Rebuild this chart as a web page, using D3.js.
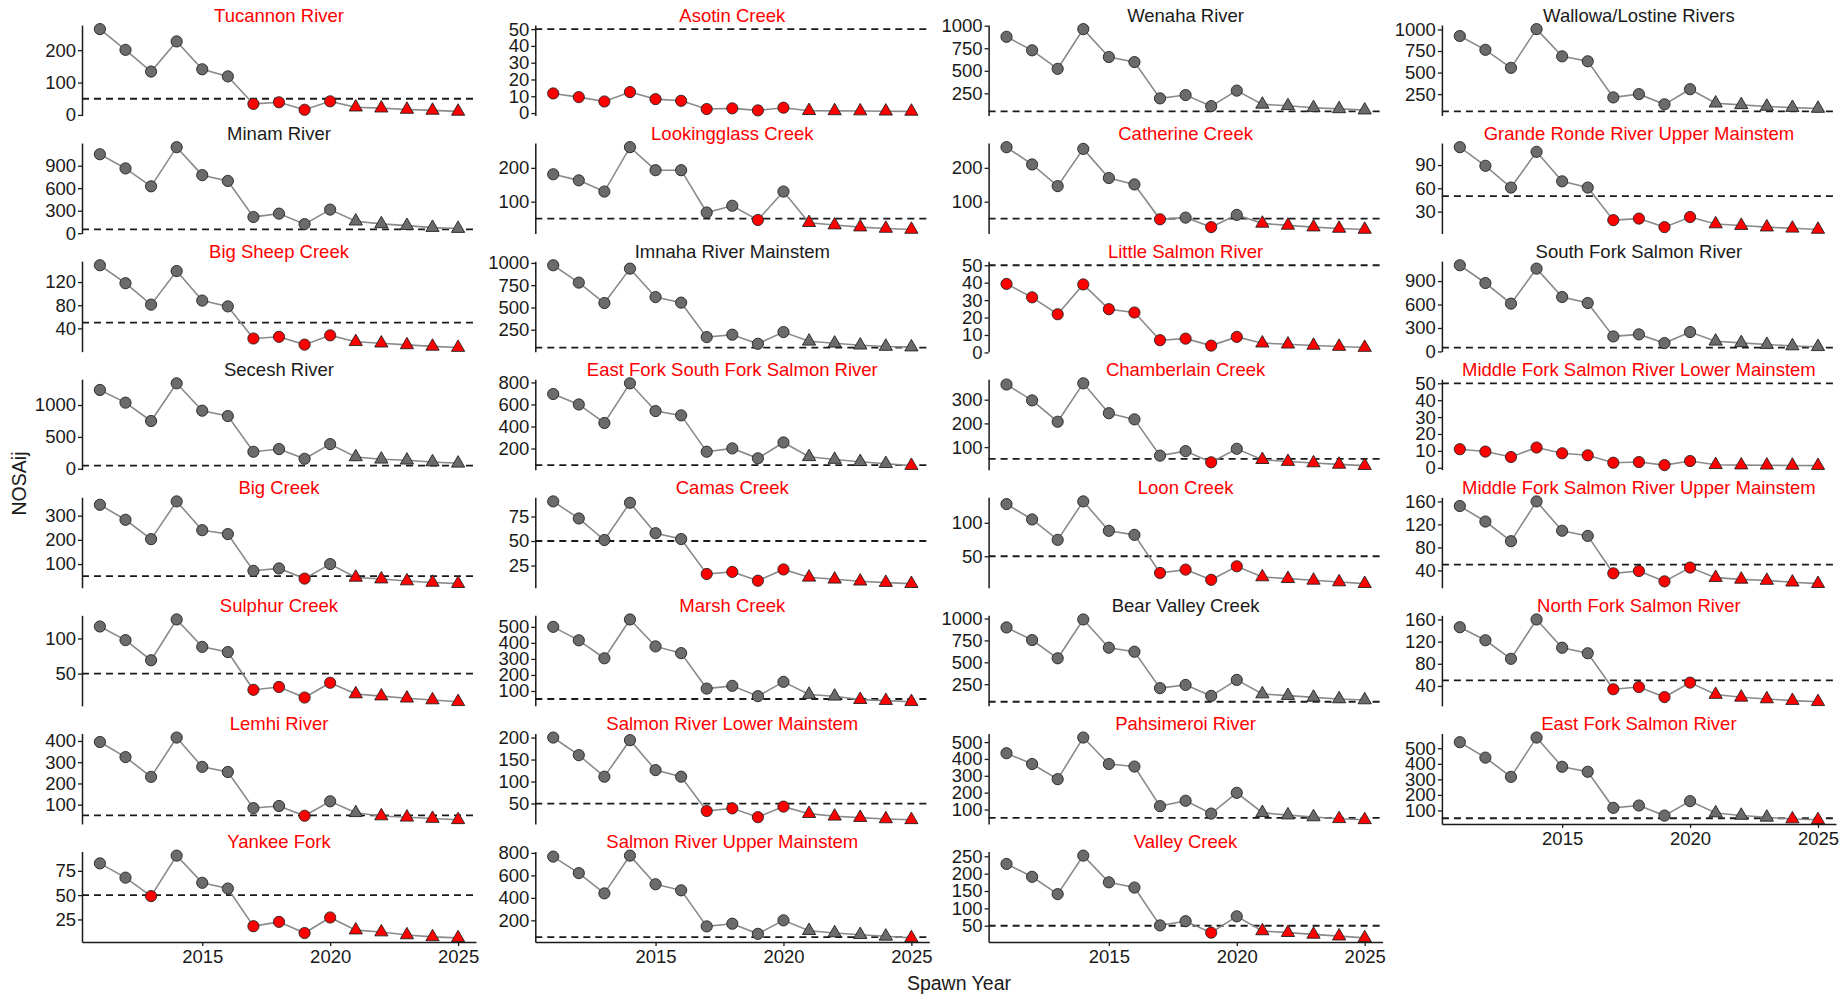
<!DOCTYPE html>
<html>
<head>
<meta charset="utf-8">
<script src="https://cdn.jsdelivr.net/npm/d3@7"></script>
<style>
  body { margin: 0; background: #ffffff; }
  text { font-family: "Liberation Sans", Arial, sans-serif; }
</style>
</head>
<body>
<div id="chart-container"></div>
<script>
// spawn years, 2021 on are projections (triangles)
const years = [2011, 2012, 2013, 2014, 2015, 2016, 2017, 2018, 2019, 2020, 2021, 2022, 2023, 2024, 2025];
const firstProjectedYear = 2021;
const threshold = 50;
const xTicks = [2015, 2020, 2025];

// NOSAij per population
const tucannon = [265, 201, 134, 227, 141, 119, 34, 39, 16, 42, 24, 21, 17, 14, 11];
const asotin = [11.7, 9.5, 6.9, 12.5, 8.3, 7.3, 2.4, 2.8, 1.6, 3.2, 1.4, 1.3, 1.2, 1.1, 1.0];
const wenaha = [877, 727, 522, 962, 653, 597, 194, 231, 108, 280, 128, 112, 90, 78, 64];
const wallowa = [924, 764, 555, 1004, 688, 631, 212, 250, 132, 307, 145, 126, 107, 94, 84];
const minam = [1053, 864, 625, 1147, 774, 697, 216, 261, 121, 315, 160, 124, 101, 75, 62];
const lookingglass = [181, 163, 130, 261, 193, 193, 68, 88, 46, 130, 38, 31, 25, 21, 18];
const catherine = [261, 210, 146, 256, 170, 151, 48, 53, 25, 61, 36, 30, 25, 21, 18];
const grandeRondeUpper = [113, 89, 61, 107, 69, 61, 19, 21, 10, 23, 14, 12, 10, 8.5, 7];
const bigSheep = [149, 118, 81, 139, 88, 78, 22.6, 25.5, 12, 28, 17, 14.5, 11.5, 9, 7];
const imnaha = [974, 779, 550, 936, 617, 554, 167, 194, 92, 224, 120, 98, 76, 62, 55];
const littleSalmon = [39.3, 31.6, 21.9, 39, 24.8, 22.9, 7, 7.9, 3.9, 8.9, 5.3, 4.7, 4.0, 3.4, 2.8];
const southFork = [1102, 875, 611, 1059, 696, 619, 192, 218, 107, 248, 130, 110, 88, 70, 60];
const secesh = [1236, 1037, 749, 1340, 911, 827, 267, 309, 157, 387, 186, 149, 134, 107, 86];
const efSouthFork = [695, 600, 432, 792, 540, 501, 171, 201, 111, 255, 125, 100, 80, 62, 45];
const chamberlain = [364, 297, 207, 369, 243, 217, 64, 83, 36, 93, 47, 39, 33, 27, 22];
const mfLower = [11, 9.6, 6.4, 12, 8.6, 7.4, 3, 3.4, 1.6, 4, 1.8, 1.6, 1.5, 1.4, 1.3];
const bigCreek = [345, 283, 203, 359, 240, 224, 72, 82, 40, 100, 45, 38, 30, 24, 19];
const camas = [90.4, 73, 51, 89, 58, 52, 16.4, 18.5, 9.5, 21, 13, 11, 9, 7.6, 6.5];
const loon = [128, 105, 74.5, 132, 88, 82, 25, 30, 14.8, 35, 19, 16.5, 14, 11.5, 9];
const mfUpper = [152, 125, 90.8, 160, 109, 100, 35, 39, 21, 45, 27.5, 24.5, 22.5, 19.5, 17];
const sulphur = [117, 97.6, 69, 127, 88, 80.6, 27, 31, 16, 37, 21, 18, 15, 12.5, 10];
const marsh = [500, 416, 304, 546, 378, 336, 115, 132, 68, 157, 78, 67, 46, 40, 33];
const bearValley = [898, 754, 546, 989, 667, 621, 205, 242, 117, 299, 138, 120, 100, 82, 70];
const northFork = [146, 122.5, 89, 160, 109, 99, 34, 38, 20, 46, 24.5, 19.5, 16.5, 13.5, 11.5];
const lemhi = [395, 324, 231, 416, 278, 254, 84, 94, 48, 116, 62, 47, 41, 35, 29];
const salmonLower = [200, 160, 111, 194, 126, 111, 33, 39, 19, 43, 27, 21, 18, 15, 13];
const pahsimeroi = [434, 370, 280, 527, 370, 355, 120, 152, 76, 199, 81, 67, 56, 45, 39];
const eastForkSalmon = [539, 440, 316, 569, 381, 349, 117, 132, 67, 160, 84, 68, 56, 45, 40];
const yankeeFork = [82.7, 68, 49, 90.7, 62.7, 56.8, 18, 22.5, 11, 27, 14, 12, 9, 7, 6];
const salmonUpper = [767, 620, 440, 776, 521, 467, 146, 170, 80, 200, 108, 88, 72, 58, 44];
const valley = [228, 191, 141, 252, 175, 160, 51, 63, 30, 77, 35, 30, 25, 20, 15];

const populations = [
    "Tucannon River", "Asotin Creek", "Wenaha River", "Wallowa/Lostine Rivers",
    "Minam River", "Lookingglass Creek", "Catherine Creek", "Grande Ronde River Upper Mainstem",
    "Big Sheep Creek", "Imnaha River Mainstem", "Little Salmon River", "South Fork Salmon River",
    "Secesh River", "East Fork South Fork Salmon River", "Chamberlain Creek", "Middle Fork Salmon River Lower Mainstem",
    "Big Creek", "Camas Creek", "Loon Creek", "Middle Fork Salmon River Upper Mainstem",
    "Sulphur Creek", "Marsh Creek", "Bear Valley Creek", "North Fork Salmon River",
    "Lemhi River", "Salmon River Lower Mainstem", "Pahsimeroi River", "East Fork Salmon River",
    "Yankee Fork", "Salmon River Upper Mainstem", "Valley Creek"
];

const series = [
    tucannon, asotin, wenaha, wallowa,
    minam, lookingglass, catherine, grandeRondeUpper,
    bigSheep, imnaha, littleSalmon, southFork,
    secesh, efSouthFork, chamberlain, mfLower,
    bigCreek, camas, loon, mfUpper,
    sulphur, marsh, bearValley, northFork,
    lemhi, salmonLower, pahsimeroi, eastForkSalmon,
    yankeeFork, salmonUpper, valley
];

// y tick labels shown on each panel (free scales)
const yTicks = [
    [0, 100, 200], [0, 10, 20, 30, 40, 50], [250, 500, 750, 1000], [250, 500, 750, 1000],
    [0, 300, 600, 900], [100, 200], [100, 200], [30, 60, 90],
    [40, 80, 120], [250, 500, 750, 1000], [0, 10, 20, 30, 40, 50], [0, 300, 600, 900],
    [0, 500, 1000], [200, 400, 600, 800], [100, 200, 300], [0, 10, 20, 30, 40, 50],
    [100, 200, 300], [25, 50, 75], [50, 100], [40, 80, 120, 160],
    [50, 100], [100, 200, 300, 400, 500], [250, 500, 750, 1000], [40, 80, 120, 160],
    [100, 200, 300, 400], [50, 100, 150, 200], [100, 200, 300, 400, 500], [100, 200, 300, 400, 500],
    [25, 50, 75], [200, 400, 600, 800], [50, 100, 150, 200, 250]
];

//----------------------------------------------------------------------------------------------------

const width = 1844, height = 995;
const nCol = 4;
const panelW = 394, panelH = 90.5;
const colStep = 453.3, rowStep = 118.07;
const left0 = 82, top0 = 25;
const ink = "#1a1a1a";
const fontSize = "18.5px";

const svg = d3.select("#chart-container")
    .append("svg")
    .attr("width", width)
    .attr("height", height);

svg.append("rect").attr("width", width).attr("height", height).attr("fill", "#ffffff");

// same x scale for every panel, ggplot style 5% expansion
const x = d3.scaleLinear()
    .domain([years[0] - 0.05 * (years[years.length - 1] - years[0]), years[years.length - 1] + 0.05 * (years[years.length - 1] - years[0])])
    .range([0, panelW]);

const nRows = Math.ceil(populations.length / nCol);

populations.forEach((name, i) => {
    const values = series[i];
    const data = years.map((yr, j) => ({ year: yr, value: values[j] }));
    const col = i % nCol, row = Math.floor(i / nCol);

    // free y scale, includes the threshold line
    const lo = Math.min(d3.min(values), threshold);
    const hi = Math.max(d3.max(values), threshold);
    const pad = (hi - lo) * 0.05;
    const y = d3.scaleLinear().domain([lo - pad, hi + pad]).range([panelH, 0]);

    const g = svg.append("g")
        .attr("transform", `translate(${left0 + col * colStep},${top0 + row * rowStep})`);

    // strip title, red when any year falls under the threshold
    g.append("text")
        .attr("x", panelW / 2)
        .attr("y", -3)
        .attr("text-anchor", "middle")
        .style("font-size", fontSize)
        .attr("fill", values.some(v => v < threshold) ? "#ff0000" : ink)
        .text(name);

    // threshold
    g.append("line")
        .attr("x1", 0).attr("x2", panelW)
        .attr("y1", y(threshold)).attr("y2", y(threshold))
        .attr("stroke", ink)
        .attr("stroke-width", 1.8)
        .attr("stroke-dasharray", "7,5");

    g.append("path")
        .datum(data)
        .attr("fill", "none")
        .attr("stroke", "#8a8a8a")
        .attr("stroke-width", 1.6)
        .attr("d", d3.line().x(d => x(d.year)).y(d => y(d.value)));

    const fillOf = d => d.value < threshold ? "#ff0000" : "#6b6b6b";

    g.selectAll("circle")
        .data(data.filter(d => d.year < firstProjectedYear))
        .enter()
        .append("circle")
        .attr("cx", d => x(d.year))
        .attr("cy", d => y(d.value))
        .attr("r", 5.6)
        .attr("fill", fillOf)
        .attr("stroke", "#222")
        .attr("stroke-width", 0.9);

    g.selectAll(".tri")
        .data(data.filter(d => d.year >= firstProjectedYear))
        .enter()
        .append("path")
        .attr("class", "tri")
        .attr("transform", d => `translate(${x(d.year)},${y(d.value)})`)
        .attr("d", d3.symbol().type(d3.symbolTriangle).size(76))
        .attr("fill", fillOf)
        .attr("stroke", "#222")
        .attr("stroke-width", 0.9);

    // y axis, plain integers (no thousands comma)
    const yAxis = g.append("g")
        .call(d3.axisLeft(y).tickValues(yTicks[i]).tickFormat(d3.format("d")).tickSize(4).tickPadding(2).tickSizeOuter(0));
    yAxis.select(".domain").attr("stroke", ink).attr("stroke-width", 1.5);
    yAxis.selectAll(".tick line").attr("stroke", ink).attr("stroke-width", 1.3);
    yAxis.selectAll(".tick text").attr("fill", ink).style("font-size", fontSize).attr("font-family", null);

    // x axis only on the lowest panel of each column
    const isBottom = i + nCol >= populations.length;
    if (isBottom) {
        const xAxis = g.append("g")
            .attr("transform", `translate(0,${panelH})`)
            .call(d3.axisBottom(x).tickValues(xTicks).tickFormat(d3.format("d")).tickSize(4).tickPadding(4).tickSizeOuter(0));
        xAxis.select(".domain").attr("stroke", ink).attr("stroke-width", 1.5);
        xAxis.selectAll(".tick line").attr("stroke", ink).attr("stroke-width", 1.3);
        xAxis.selectAll(".tick text").attr("fill", ink).style("font-size", fontSize).attr("font-family", null);
    }
});

// axis titles
const gridLeft = left0, gridRight = left0 + (nCol - 1) * colStep + panelW;
const gridTop = top0, gridBottom = top0 + (nRows - 1) * rowStep + panelH;

svg.append("text")
    .attr("x", (gridLeft + gridRight) / 2)
    .attr("y", gridBottom + 48)
    .attr("text-anchor", "middle")
    .style("font-size", "19.5px")
    .attr("fill", ink)
    .text("Spawn Year");

svg.append("text")
    .attr("transform", `translate(26,${(gridTop + gridBottom) / 2}) rotate(-90)`)
    .attr("text-anchor", "middle")
    .style("font-size", "19.5px")
    .attr("fill", ink)
    .text("NOSAij");
</script>
</body>
</html>
